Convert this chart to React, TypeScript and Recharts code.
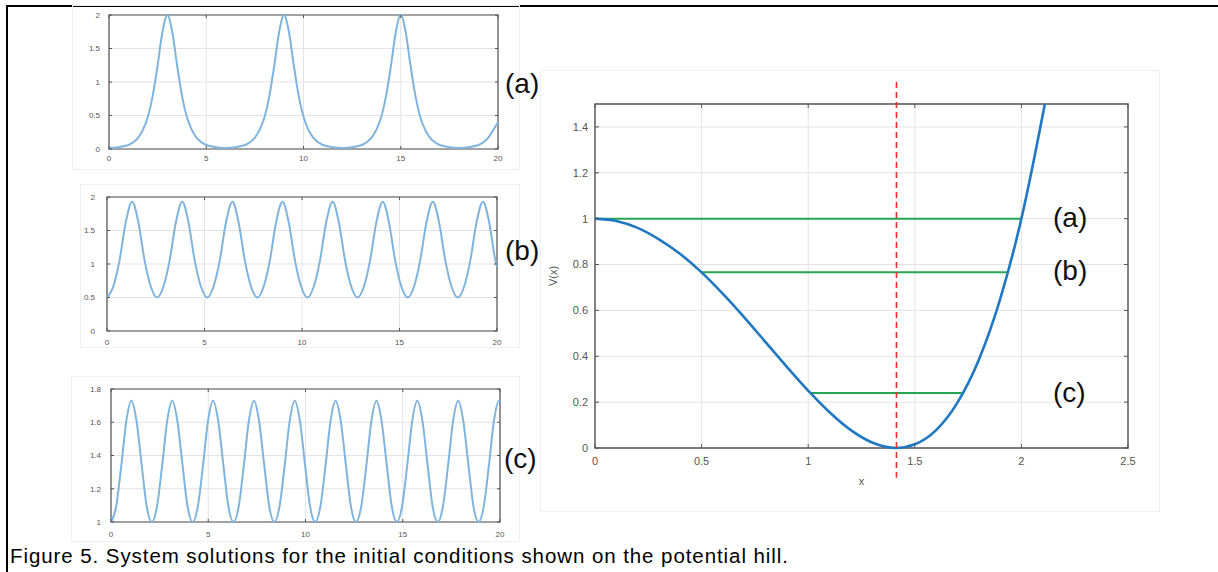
import React from 'react';
import { LineChart, Line, XAxis, YAxis, CartesianGrid, ReferenceLine, ReferenceArea } from 'recharts';

// sample times and readings for the three small solution plots
const timeA = [
  0, 0.25, 0.5, 0.75, 1, 1.25, 1.5, 1.75, 2, 2.25, 2.5, 2.75, 3, 3.25, 3.5, 3.75, 4, 4.25, 4.5, 4.75,
  5, 5.25, 5.5, 5.75, 6, 6.25, 6.5, 6.75, 7, 7.25, 7.5, 7.75, 8, 8.25, 8.5, 8.75, 9, 9.25, 9.5, 9.75,
  10, 10.25, 10.5, 10.75, 11, 11.25, 11.5, 11.75, 12, 12.25, 12.5, 12.75, 13, 13.25, 13.5, 13.75, 14, 14.25, 14.5, 14.75,
  15, 15.25, 15.5, 15.75, 16, 16.25, 16.5, 16.75, 17, 17.25, 17.5, 17.75, 18, 18.25, 18.5, 18.75, 19, 19.25, 19.5, 19.75, 20,
];
const valuesA = [
  0.015, 0.018, 0.025, 0.04, 0.06, 0.1, 0.17, 0.29, 0.48, 0.8, 1.25, 1.75, 2.0,
  1.75, 1.25, 0.8, 0.48, 0.29, 0.17, 0.1, 0.06, 0.04, 0.025, 0.018, 0.015,
  0.018, 0.025, 0.04, 0.06, 0.1, 0.17, 0.29, 0.48, 0.8, 1.25, 1.75, 2.0,
  1.75, 1.25, 0.8, 0.48, 0.29, 0.17, 0.1, 0.06, 0.04, 0.025, 0.018, 0.015,
  0.018, 0.025, 0.04, 0.06, 0.1, 0.17, 0.29, 0.48, 0.8, 1.25, 1.75, 2.0,
  1.75, 1.25, 0.8, 0.48, 0.29, 0.17, 0.1, 0.06, 0.04, 0.025, 0.018, 0.015,
  0.018, 0.025, 0.04, 0.06, 0.1, 0.17, 0.28, 0.4,
];

const timeB = [
  0, 0.32, 0.64, 0.96, 1.29, 1.61, 1.93, 2.25, 2.57, 2.89, 3.21, 3.53, 3.86, 4.18, 4.5, 4.82,
  5.14, 5.46, 5.78, 6.1, 6.43, 6.75, 7.07, 7.39, 7.71, 8.03, 8.35, 8.67, 9.0, 9.32, 9.64, 9.96,
  10.28, 10.6, 10.92, 11.24, 11.57, 11.89, 12.21, 12.53, 12.85, 13.17, 13.49, 13.81, 14.14, 14.46, 14.78, 15.1,
  15.42, 15.74, 16.06, 16.38, 16.71, 17.03, 17.35, 17.67, 17.99, 18.31, 18.63, 18.95, 19.28, 19.6, 19.92, 20,
];
const valuesB = [
  0.5, 0.66, 1.05, 1.62, 1.93, 1.62, 1.05, 0.66,
  0.5, 0.66, 1.05, 1.62, 1.93, 1.62, 1.05, 0.66,
  0.5, 0.66, 1.05, 1.62, 1.93, 1.62, 1.05, 0.66,
  0.5, 0.66, 1.05, 1.62, 1.93, 1.62, 1.05, 0.66,
  0.5, 0.66, 1.05, 1.62, 1.93, 1.62, 1.05, 0.66,
  0.5, 0.66, 1.05, 1.62, 1.93, 1.62, 1.05, 0.66,
  0.5, 0.66, 1.05, 1.62, 1.93, 1.62, 1.05, 0.66,
  0.5, 0.66, 1.05, 1.62, 1.93, 1.62, 1.05, 0.96,
];

const timeC = [
  0, 0.26, 0.53, 0.79, 1.05, 1.31, 1.58, 1.84, 2.1, 2.36, 2.63, 2.89, 3.15, 3.41, 3.68, 3.94,
  4.2, 4.46, 4.73, 4.99, 5.25, 5.51, 5.78, 6.04, 6.3, 6.56, 6.83, 7.09, 7.35, 7.61, 7.88, 8.14,
  8.4, 8.66, 8.93, 9.19, 9.45, 9.71, 9.98, 10.24, 10.5, 10.76, 11.03, 11.29, 11.55, 11.81, 12.08, 12.34,
  12.6, 12.86, 13.13, 13.39, 13.65, 13.91, 14.18, 14.44, 14.7, 14.96, 15.23, 15.49, 15.75, 16.01, 16.28, 16.54,
  16.8, 17.06, 17.33, 17.59, 17.85, 18.11, 18.38, 18.64, 18.9, 19.16, 19.43, 19.69, 19.95, 20,
];
const valuesC = [
  1.0, 1.09, 1.34, 1.61, 1.73, 1.61, 1.34, 1.09,
  1.0, 1.09, 1.34, 1.61, 1.73, 1.61, 1.34, 1.09,
  1.0, 1.09, 1.34, 1.61, 1.73, 1.61, 1.34, 1.09,
  1.0, 1.09, 1.34, 1.61, 1.73, 1.61, 1.34, 1.09,
  1.0, 1.09, 1.34, 1.61, 1.73, 1.61, 1.34, 1.09,
  1.0, 1.09, 1.34, 1.61, 1.73, 1.61, 1.34, 1.09,
  1.0, 1.09, 1.34, 1.61, 1.73, 1.61, 1.34, 1.09,
  1.0, 1.09, 1.34, 1.61, 1.73, 1.61, 1.34, 1.09,
  1.0, 1.09, 1.34, 1.61, 1.73, 1.61, 1.34, 1.09,
  1.0, 1.09, 1.34, 1.61, 1.73, 1.72,
];

// potential hill V(x)
const potentialX = [0, 0.1, 0.2, 0.3, 0.4, 0.5, 0.6, 0.7, 0.8, 0.9, 1.0, 1.1, 1.2, 1.3, 1.414, 1.5, 1.6, 1.7, 1.8, 1.9, 2.0, 2.11];
const potentialV = [1, 0.99, 0.96, 0.91, 0.846, 0.766, 0.672, 0.57, 0.462, 0.354, 0.25, 0.156, 0.078, 0.024, 0, 0.016, 0.078, 0.198, 0.384, 0.648, 1.0, 1.5];

// energy levels for the three initial conditions
const levelNames = ['(a)', '(b)', '(c)'];
const levelValues = [1, 0.766, 0.24];
const levelStart = [0, 0.5, 1.01];
const levelEnd = [2, 1.935, 1.73];
const minimumX = 1.414;

const ticksT = [0, 5, 10, 15, 20];
const ticksAB = [0, 0.5, 1, 1.5, 2];
const ticksC = [1, 1.2, 1.4, 1.6, 1.8];
const ticksX = [0, 0.5, 1, 1.5, 2, 2.5];
const ticksV = [0, 0.2, 0.4, 0.6, 0.8, 1, 1.2, 1.4];

const AXIS = '#555';
const GRID = '#e3e3e3';
const FONT = '"Liberation Sans", Arial, sans-serif';

const dataA = timeA.map((t, i) => ({ t, y: valuesA[i] }));
const dataB = timeB.map((t, i) => ({ t, y: valuesB[i] }));
const dataC = timeC.map((t, i) => ({ t, y: valuesC[i] }));
const potential = potentialX.map((x, i) => ({ x, v: potentialV[i] }));
const levels = levelValues.map((v, i) => [
  { x: levelStart[i], v },
  { x: levelEnd[i], v },
]);

// tick label plus small inward marks on both opposite edges (matlab style)
function xTick(margin: number, plotH: number, fontSize: number, len: number) {
  return (props: any) => {
    const { x, y, payload } = props;
    const axisY = y - margin;
    return (
      <g>
        <line x1={x} x2={x} y1={axisY} y2={axisY - len} stroke={AXIS} strokeWidth={1} />
        <line x1={x} x2={x} y1={axisY - plotH} y2={axisY - plotH + len} stroke={AXIS} strokeWidth={1} />
        <text x={x} y={y} dy="0.71em" textAnchor="middle" fontSize={fontSize} fill={AXIS} fontFamily={FONT}>
          {String(payload.value)}
        </text>
      </g>
    );
  };
}

function yTick(margin: number, plotW: number, fontSize: number, len: number) {
  return (props: any) => {
    const { x, y, payload } = props;
    const axisX = x + margin;
    return (
      <g>
        <line x1={axisX} x2={axisX + len} y1={y} y2={y} stroke={AXIS} strokeWidth={1} />
        <line x1={axisX + plotW} x2={axisX + plotW - len} y1={y} y2={y} stroke={AXIS} strokeWidth={1} />
        <text x={x} y={y} dy="0.355em" textAnchor="end" fontSize={fontSize} fill={AXIS} fontFamily={FONT}>
          {String(payload.value)}
        </text>
      </g>
    );
  };
}

function Panel({ left, top, width, height, margin, yWidth, xHeight, data, yDomain, yTicks, xTickMargin, yTickMargin }: any) {
  const plotW = width - yWidth - margin.right;
  const plotH = height - margin.top - margin.bottom - xHeight;
  return (
    <div style={{ position: 'absolute', left, top, width, height, outline: '1px solid #f0f0f0', outlineOffset: -1 }}>
      <LineChart width={width} height={height} data={data} margin={margin}>
        <CartesianGrid stroke={GRID} />
        <XAxis dataKey="t" type="number" domain={[0, 20]} ticks={ticksT} height={xHeight} axisLine={false}
          tickLine={false} tickSize={0} tickMargin={xTickMargin} tick={xTick(xTickMargin, plotH, 8, 3)} />
        <YAxis type="number" domain={yDomain} ticks={yTicks} width={yWidth} axisLine={false}
          tickLine={false} tickSize={0} tickMargin={yTickMargin} tick={yTick(yTickMargin, plotW, 8, 3)} />
        <Line dataKey="y" type="monotone" stroke="#7fb5dd" strokeWidth={2} dot={false} isAnimationActive={false} />
        <ReferenceArea x1={0} x2={20} y1={yDomain[0]} y2={yDomain[1]} fill="none" stroke={AXIS} strokeWidth={1.2} />
      </LineChart>
    </div>
  );
}

export default function App() {
  const rightPlotW = 620 - 55 - 32;
  const rightPlotH = 442 - 34 - 24 - 40;
  return (
    <div style={{ position: 'absolute', left: 0, top: 0, width: 1218, height: 572, background: '#fff', overflow: 'hidden' }}>
      <div style={{ position: 'absolute', left: 6, top: 5, width: 1212, height: 2, background: '#000' }} />
      <div style={{ position: 'absolute', left: 6, top: 5, width: 2, height: 567, background: '#000' }} />

      <Panel left={72} top={5} width={448} height={165} margin={{ top: 10, right: 22, bottom: 1, left: 0 }}
        yWidth={37} xHeight={20} data={dataA} yDomain={[0, 2]} yTicks={ticksAB} xTickMargin={6} yTickMargin={9} />
      <Panel left={80} top={184} width={440} height={164} margin={{ top: 13, right: 23, bottom: 1, left: 0 }}
        yWidth={27} xHeight={16} data={dataB} yDomain={[0, 2]} yTicks={ticksAB} xTickMargin={8} yTickMargin={12} />
      <Panel left={71} top={376} width={449} height={166} margin={{ top: 13, right: 20, bottom: 1, left: 0 }}
        yWidth={40} xHeight={19} data={dataC} yDomain={[1, 1.8]} yTicks={ticksC} xTickMargin={9} yTickMargin={10} />

      <div style={{ position: 'absolute', left: 540, top: 70, width: 620, height: 442, outline: '1px solid #f0f0f0', outlineOffset: -1 }}>
        <LineChart width={620} height={442} margin={{ top: 34, right: 32, bottom: 24, left: 0 }}>
          <CartesianGrid stroke={GRID} />
          <XAxis dataKey="x" type="number" domain={[0, 2.5]} ticks={ticksX} height={40} axisLine={false}
            tickLine={false} tickSize={0} tickMargin={9} tick={xTick(9, rightPlotH, 11, 4)}
            label={{ value: 'x', position: 'insideBottom', offset: 3, fontSize: 11, fill: AXIS, fontFamily: FONT }} />
          <YAxis type="number" domain={[0, 1.5]} ticks={ticksV} width={55} axisLine={false}
            tickLine={false} tickSize={0} tickMargin={7} tick={yTick(7, rightPlotW, 11, 4)}
            label={{ value: 'V(x)', angle: -90, position: 'insideLeft', offset: 13, fontSize: 11, fill: AXIS, fontFamily: FONT, style: { textAnchor: 'middle' } }} />
          {levels.map((lv, i) => (
            <Line key={levelNames[i]} data={lv} dataKey="v" type="linear" stroke="#27a552" strokeWidth={2}
              dot={false} isAnimationActive={false} />
          ))}
          <Line data={potential} dataKey="v" type="monotone" stroke="#1f78c1" strokeWidth={2.6} dot={false}
            isAnimationActive={false} />
          <ReferenceArea x1={0} x2={2.5} y1={0} y2={1.5} fill="none" stroke={AXIS} strokeWidth={1.4} />
          <ReferenceLine segment={[{ x: minimumX, y: 1.596 }, { x: minimumX, y: -0.13 }]} stroke="#e8302a"
            strokeWidth={1.6} strokeDasharray="6 4" ifOverflow="visible" />
        </LineChart>
      </div>

      <svg width={1218} height={572} style={{ position: 'absolute', left: 0, top: 0, pointerEvents: 'none' }}>
        <g fontFamily='"Liberation Sans Narrow", "Liberation Sans", Arial, sans-serif' fontSize={28} fill="#111">
          <text x={505} y={93}>{levelNames[0]}</text>
          <text x={505} y={260}>{levelNames[1]}</text>
          <text x={504} y={468}>{levelNames[2]}</text>
          <text x={1053} y={227}>{levelNames[0]}</text>
          <text x={1053} y={280}>{levelNames[1]}</text>
          <text x={1053} y={402}>{levelNames[2]}</text>
        </g>
        <text x={10} y={563} fontFamily={FONT} fontSize={20.5} fill="#000" textLength={778} lengthAdjust="spacing">
          Figure 5. System solutions for the initial conditions shown on the potential hill.
        </text>
      </svg>
    </div>
  );
}
